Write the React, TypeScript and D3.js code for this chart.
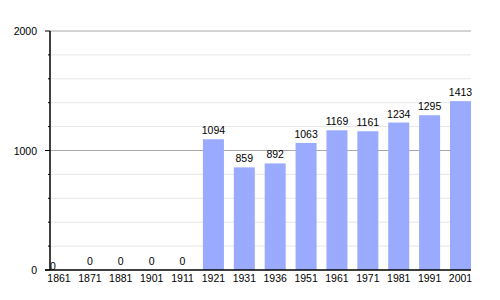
import React from "react";
import * as d3 from "d3";

const years = ["1861","1871","1881","1901","1911","1921","1931","1936","1951","1961","1971","1981","1991","2001"];
const population = [0,0,0,0,0,1094,859,892,1063,1169,1161,1234,1295,1413];
const majorTicks = [0, 1000, 2000];
const minorTicks = [200,400,600,800,1200,1400,1600,1800];

export default function App() {
  const W = 500, H = 300;
  const x0 = 50, xEnd = 471;
  const y = d3.scaleLinear().domain([0, 2000]).range([270, 31]);
  const x = d3.scaleBand<string>().domain(years).range([48.5, 471]).paddingInner(0.32).paddingOuter(0);
  const font = "Liberation Sans, Arial, Helvetica, sans-serif";
  const fs = 10.5;
  return (
    <svg width={W} height={H} style={{ position: "absolute", left: 0, top: 0 }} fontFamily={font}>
      <rect width={W} height={H} fill="#fff" />
      {minorTicks.map(t => (
        <g key={"m"+t}>
          <line x1={x0} x2={xEnd} y1={y(t)} y2={y(t)} stroke="#e6e6e6" strokeWidth={1} />
          <line x1={x0 - 2} x2={x0} y1={y(t)} y2={y(t)} stroke="#000" strokeWidth={1} />
        </g>
      ))}
      {majorTicks.filter(t => t > 0).map(t => (
        <line key={"g"+t} x1={x0} x2={xEnd} y1={y(t)} y2={y(t)} stroke="#a8a8a8" strokeWidth={1} />
      ))}
      {years.map((yr, i) => (
        <rect key={yr} x={x(yr)} width={x.bandwidth()} y={y(population[i])} height={y(0) - y(population[i])} fill="#99aaff" />
      ))}
      {years.map((yr, i) => {
        const cx = i === 0 ? 53 : (x(yr) as number) + x.bandwidth() / 2;
        const cy = i === 0 ? y(population[i]) - 0.5 : y(population[i]) - 5;
        return (
          <text key={"v"+yr} x={cx} y={cy} textAnchor="middle" fontSize={fs} fill="#000">{population[i]}</text>
        );
      })}
      <line x1={x0} x2={x0} y1={y(2000)} y2={y(0)} stroke="#000" strokeWidth={1.5} />
      <line x1={45} x2={xEnd} y1={y(0)} y2={y(0)} stroke="#000" strokeWidth={1.5} />
      {majorTicks.map(t => (
        <g key={"t"+t}>
          <line x1={45} x2={x0} y1={y(t)} y2={y(t)} stroke="#000" strokeWidth={1} />
          <text x={37} y={y(t) + 4} textAnchor="end" fontSize={fs} fill="#000">{t}</text>
        </g>
      ))}
      {years.map(yr => (
        <text key={"l"+yr} x={(x(yr) as number) + x.bandwidth() / 2} y={282} textAnchor="middle" fontSize={fs} fill="#000">{yr}</text>
      ))}
    </svg>
  );
}
